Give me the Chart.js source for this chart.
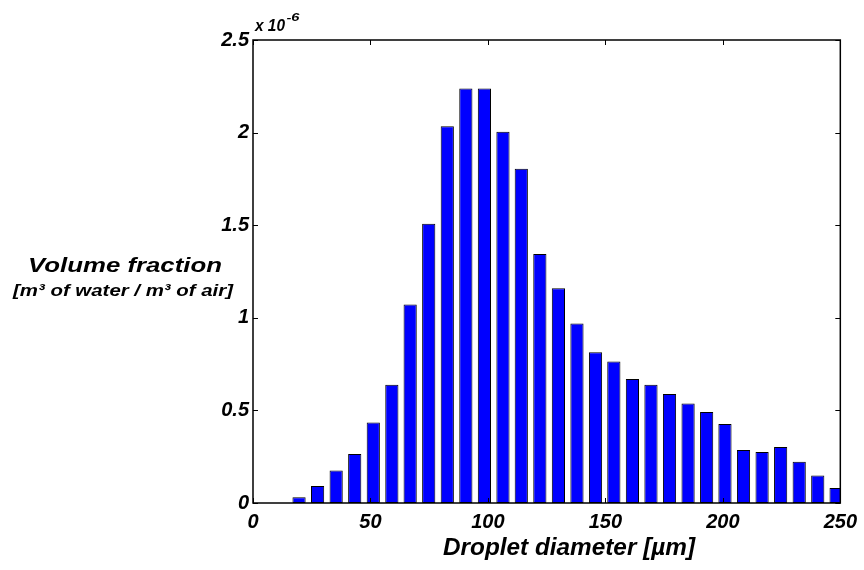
<!DOCTYPE html>
<html lang="en">
<head>
    <meta charset="UTF-8">
    <title>Droplet size distribution</title>
    <script src="https://cdn.jsdelivr.net/npm/chart.js"></script>
    <style>
        body { margin: 0; background: #fff; }
        #wrap { width: 864px; height: 570px; }
    </style>
</head>
<body>
    <div id="wrap"><canvas id="myChart" width="864" height="570"></canvas></div>
    <script>
        // bin centres [µm] and volume fraction (x 1e-6)
        const diameters = [3.9, 11.8, 19.6, 27.5, 35.4, 43.3, 51.2, 59.1, 66.9, 74.8, 82.7, 90.6, 98.5, 106.4, 114.2, 122.1,
            130.0, 137.9, 145.8, 153.6, 161.5, 169.4, 177.3, 185.2, 193.1, 200.9, 208.8, 216.7, 224.6, 232.5, 240.4, 248.2];
        const volumeFraction = [0, 0, 0.031, 0.092, 0.175, 0.265, 0.434, 0.638, 1.072, 1.508, 2.034, 2.238, 2.238, 2.004, 1.805, 1.344,
            1.160, 0.969, 0.814, 0.764, 0.669, 0.638, 0.588, 0.537, 0.492, 0.427, 0.286, 0.276, 0.303, 0.223, 0.148, 0.081];
        const xTicks = [0, 50, 100, 150, 200, 250];
        const yTicks = [0, 0.5, 1, 1.5, 2, 2.5];
        const yTickLabels = ['0', '0.5', '1', '1.5', '2', '2.5'];

        const FONT = "'Liberation Sans', Arial, sans-serif";

        // text squeezed/stretched horizontally to a given width
        function wideText(c, txt, cx, y, size, width) {
            c.save();
            c.font = 'italic bold ' + size + 'px ' + FONT;
            const w = c.measureText(txt).width;
            c.translate(cx, y);
            c.scale(width / w, 1);
            c.textAlign = 'center';
            c.fillText(txt, 0, 0);
            c.restore();
        }

        const frame = {
            id: 'frame',
            afterDraw(chart) {
                const c = chart.ctx, a = chart.chartArea;
                const xs = chart.scales.x, ys = chart.scales.y;
                c.save();
                c.strokeStyle = '#000';
                c.lineWidth = 1.5;
                c.strokeRect(a.left, a.top, a.right - a.left, a.bottom - a.top);
                c.lineWidth = 1;
                c.beginPath();
                xTicks.forEach(v => {
                    const px = Math.round(xs.getPixelForValue(v)) + 0.5;
                    c.moveTo(px, a.bottom); c.lineTo(px, a.bottom - 5);
                    c.moveTo(px, a.top); c.lineTo(px, a.top + 5);
                });
                yTicks.forEach(v => {
                    const py = Math.round(ys.getPixelForValue(v)) + 0.5;
                    c.moveTo(a.left, py); c.lineTo(a.left + 5, py);
                    c.moveTo(a.right, py); c.lineTo(a.right - 5, py);
                });
                c.stroke();

                c.fillStyle = '#000';
                c.textBaseline = 'alphabetic';
                // exponent
                wideText(c, 'x 10', 270, 31, 16, 30);
                wideText(c, '-6', 293, 21, 11, 13);

                // y title
                wideText(c, 'Volume fraction', 125, 272, 21, 194);
                wideText(c, '[m\u00B3 of water / m\u00B3 of air]', 123, 296, 17, 220);

                // x title
                wideText(c, 'Droplet diameter [\u00B5m]', 569, 555, 23, 252);
                c.restore();
            }
        };

        const ctx = document.getElementById('myChart').getContext('2d');
        const myChart = new Chart(ctx, {
            type: 'bar',
            data: {
                datasets: [{
                    data: diameters.map((d, i) => ({ x: d, y: volumeFraction[i] })),
                    backgroundColor: '#0000ff',
                    borderColor: '#000',
                    borderWidth: 1,
                    borderSkipped: false,
                    barPercentage: 0.72,
                    categoryPercentage: 1,
                    clip: 0
                }]
            },
            options: {
                responsive: false,
                animation: false,
                events: [],
                layout: { padding: { left: 0, right: 23, top: 40, bottom: 0 } },
                plugins: { legend: { display: false }, tooltip: { enabled: false } },
                scales: {
                    x: {
                        type: 'linear',
                        offset: false,
                        min: 0, max: 250,
                        afterFit: s => { s.height = 67; },
                        afterBuildTicks: s => { s.ticks = xTicks.map(v => ({ value: v })); },
                        grid: { display: false, drawTicks: false },
                        border: { display: false },
                        ticks: {
                            padding: 7,
                            color: '#000',
                            font: { family: FONT, size: 20, weight: 'bold', style: 'italic' }
                        }
                    },
                    y: {
                        min: 0, max: 2.5,
                        afterFit: s => { s.width = 253; },
                        afterBuildTicks: s => { s.ticks = yTicks.map(v => ({ value: v })); },
                        grid: { display: false, drawTicks: false },
                        border: { display: false },
                        ticks: {
                            padding: 4,
                            color: '#000',
                            font: { family: FONT, size: 20, weight: 'bold', style: 'italic' },
                            callback: (v) => yTickLabels[yTicks.indexOf(v)]
                        }
                    }
                }
            },
            plugins: [frame]
        });
    </script>
</body>
</html>
